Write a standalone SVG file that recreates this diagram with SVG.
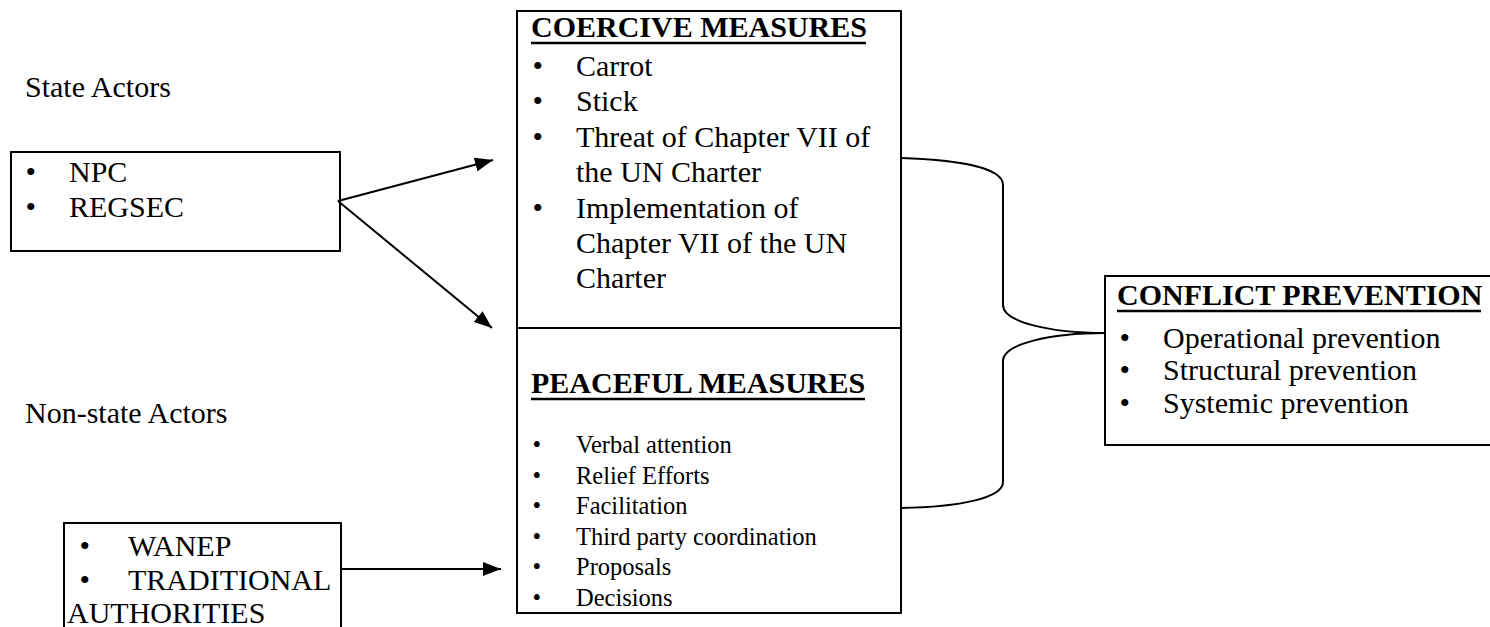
<svg xmlns="http://www.w3.org/2000/svg" width="1490" height="627" viewBox="0 0 1490 627">
  <style>
    text { font-family: "Liberation Serif", "Times New Roman", serif; fill: #000; }
    .t { font-size: 30px; }
    .s { font-size: 24.5px; }
    .h { font-size: 30px; font-weight: bold; }
    .ul { stroke: #000; stroke-width: 2.5; }
    .box { fill: #fff; stroke: #000; stroke-width: 2; }
    .ln { fill: none; stroke: #000; stroke-width: 2; }
  </style>
  <defs>
    <marker id="arr" markerUnits="userSpaceOnUse" markerWidth="20" markerHeight="14" refX="18" refY="7" orient="auto">
      <path d="M0,0 L18,7 L0,14 z" fill="#000"/>
    </marker>
  </defs>
  <rect width="1490" height="627" fill="#fff"/>

  <g id="state-actors-label">
    <text class="t" x="25" y="97">State Actors</text>
  </g>

  <g id="state-actors">
    <rect class="box" x="11" y="152" width="329" height="99"/>
    <text class="t" x="25.5" y="182">•<tspan x="69">NPC</tspan></text>
    <text class="t" x="25.5" y="217">•<tspan x="69">REGSEC</tspan></text>
  </g>

  <g id="non-state-actors-label">
    <text class="t" x="25" y="423">Non-state Actors</text>
  </g>

  <g id="non-state-actors">
    <rect class="box" x="64" y="523" width="277" height="120"/>
    <text class="t" x="79.5" y="556">•<tspan x="128">WANEP</tspan></text>
    <text class="t" x="79.5" y="590">•<tspan x="128">TRADITIONAL</tspan></text>
    <text class="t" x="67" y="623">AUTHORITIES</text>
  </g>

  <g id="measures">
    <rect class="box" x="517" y="11" width="384" height="602"/>
    <line class="ln" x1="517" y1="328" x2="901" y2="328"/>
  </g>

  <g id="coercive-measures">
    <text class="h" x="531" y="37">COERCIVE MEASURES</text>
    <line class="ul" x1="531" y1="43" x2="866" y2="43"/>
    <text class="t" x="532.5" y="76">•<tspan x="576">Carrot</tspan></text>
    <text class="t" x="532.5" y="111">•<tspan x="576">Stick</tspan></text>
    <text class="t" x="532.5" y="147">•<tspan x="576">Threat of Chapter VII of</tspan></text>
    <text class="t" x="576" y="182">the UN Charter</text>
    <text class="t" x="532.5" y="218">•<tspan x="576">Implementation of</tspan></text>
    <text class="t" x="576" y="253">Chapter VII of the UN</text>
    <text class="t" x="576" y="288">Charter</text>
  </g>

  <g id="peaceful-measures">
    <text class="h" x="531" y="393">PEACEFUL MEASURES</text>
    <line class="ul" x1="531" y1="399" x2="865" y2="399"/>
    <text class="s" x="532.5" y="453">•<tspan x="576">Verbal attention</tspan></text>
    <text class="s" x="532.5" y="484">•<tspan x="576">Relief Efforts</tspan></text>
    <text class="s" x="532.5" y="514">•<tspan x="576">Facilitation</tspan></text>
    <text class="s" x="532.5" y="545">•<tspan x="576">Third party coordination</tspan></text>
    <text class="s" x="532.5" y="575">•<tspan x="576">Proposals</tspan></text>
    <text class="s" x="532.5" y="606">•<tspan x="576">Decisions</tspan></text>
  </g>

  <g id="conflict-prevention">
    <rect class="box" x="1105" y="276" width="395" height="169"/>
    <text class="h" x="1117" y="305">CONFLICT PREVENTION</text>
    <line class="ul" x1="1117" y1="311" x2="1481" y2="311"/>
    <text class="t" x="1119.5" y="348">•<tspan x="1163">Operational prevention</tspan></text>
    <text class="t" x="1119.5" y="380">•<tspan x="1163">Structural prevention</tspan></text>
    <text class="t" x="1119.5" y="413">•<tspan x="1163">Systemic prevention</tspan></text>
  </g>

  <g id="connectors">
    <line class="ln" x1="338" y1="201" x2="493" y2="160" marker-end="url(#arr)"/>
    <line class="ln" x1="338" y1="201" x2="492" y2="328" marker-end="url(#arr)"/>
    <line class="ln" x1="342" y1="569" x2="501" y2="569" marker-end="url(#arr)"/>
    <path class="ln" d="M901,158 C960,160 1003,168 1003,185 L1003,305 C1003,322 1050,333 1105,333 C1050,333 1003,344 1003,361 L1003,482 C1003,498 960,507 901,508"/>
  </g>
</svg>
